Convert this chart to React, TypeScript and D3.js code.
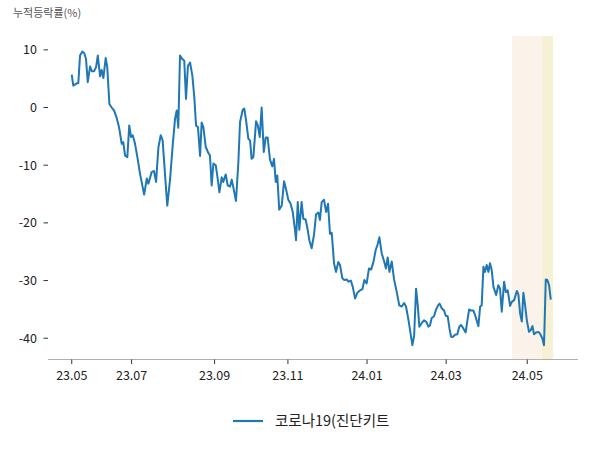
import * as d3 from "d3";
import { useEffect } from "react";

// series label and axis title
const seriesName = "코로나19(진단키트";
const yTitle = "누적등락률(%)";

// x positions in trading days from the first point
const days = [
	0, 0.8, 2.6, 3.4, 4.3, 5.5, 6.5, 7.4, 8.3, 9.5,
	10.4, 11.6, 12.6, 13.5, 14.7, 15.5, 16.4, 17.6, 18.4, 19.5,
	20.7, 21.9, 23.3, 24.5, 25.9, 26.7, 27.6, 28.8, 29.8, 30.7,
	31.6, 32.8, 34.0, 35.4, 37.5, 38.9, 39.7, 41.4, 42.6, 43.7,
	44.9, 46.1, 47.1, 48.3, 49.5, 50.9, 52.3, 53.5, 54.4, 55.2,
	56.1, 57.3, 58.3, 59.2, 60.2, 61.3, 62.5, 63.5, 64.4, 65.4,
	66.5, 67.3, 68.2, 69.4, 70.8, 71.6, 72.5, 73.4, 74.6, 75.6,
	76.5, 77.7, 78.5, 79.8, 80.8, 82.0, 82.9, 83.7, 85.1, 86.3,
	87.2, 88.6, 89.4, 90.3, 91.5, 92.4, 93.2, 94.1, 95.5, 96.4,
	97.4, 98.4, 99.5, 100.5, 101.5, 102.7, 103.9, 104.8, 105.7, 106.5,
	107.5, 108.8, 110.0, 111.0, 112.2, 113.4, 114.5, 115.7, 116.2, 117.1,
	117.9, 119.1, 120.0, 121.2, 122.4, 123.1, 124.3, 125.5, 126.6, 127.8,
	128.6, 129.5, 130.7, 131.8, 132.8, 133.8, 134.7, 135.9, 136.9, 138.1,
	139.0, 140.2, 141.2, 142.5, 143.3, 144.6, 145.6, 146.8, 148.0, 149.4,
	150.6, 151.6, 152.8, 154.0, 155.1, 156.3, 157.5, 158.5, 159.4, 160.6,
	161.8, 162.8, 163.7, 164.6, 165.8, 167.0, 168.4, 169.7, 171.0, 172.2,
	173.2, 174.4, 175.6, 176.5, 177.4, 178.4, 179.3, 180.1, 181.3, 182.5,
	183.6, 184.8, 185.6, 186.5, 187.7, 188.8, 189.8, 190.6, 191.7, 192.9,
	193.8, 194.8, 195.7, 196.5, 197.4, 198.6, 199.8, 200.8, 201.7, 202.9,
	204.1, 205.0, 205.9, 206.9, 208.1, 209.0, 209.8, 210.7, 211.6, 212.4,
	213.3, 214.1, 215.0, 215.9, 216.7, 217.6, 218.5, 219.9, 221.0, 221.9,
	222.8, 224.0, 224.9, 225.9, 227.1, 228.0, 229.2, 230.6, 231.4, 232.3,
	233.2, 234.0, 234.9, 235.8, 236.9, 237.8, 238.7, 239.5, 240.6, 241.8,
	242.6, 243.8, 244.7, 245.6, 246.4, 247.3, 248.2,
];

// cumulative return (%)
const values = [
	5.7, 3.8, 4.2, 4.2, 9.0, 9.7, 9.4, 8.4, 4.4, 7.1,
	6.3, 6.3, 7.0, 9.0, 5.4, 6.5, 5.1, 8.6, 7.0, 0.6,
	0.0, -0.5, -1.8, -3.4, -6.3, -6.0, -8.3, -8.6, -3.1, -5.1,
	-4.8, -6.3, -8.6, -11.5, -15.1, -12.3, -13.2, -11.2, -11.0, -12.9,
	-6.9, -4.8, -5.7, -11.5, -17.0, -12.6, -6.6, -2.0, -0.5, -3.5,
	9.0, 8.4, 8.1, 1.5, 7.2, 7.8, 5.5, 1.8, -3.1, -3.4,
	-8.4, -2.6, -3.4, -6.8, -7.9, -8.3, -13.5, -9.7, -10.0, -12.3,
	-14.7, -12.1, -12.9, -11.6, -13.5, -13.7, -12.5, -13.8, -16.2, -9.7,
	-2.5, -0.4, -0.2, -2.2, -5.4, -5.7, -8.9, -8.6, -2.4, -3.1,
	-5.1, 0.0, -7.7, -5.2, -5.2, -9.0, -10.2, -8.9, -12.9, -11.8,
	-17.7, -17.0, -12.8, -14.1, -16.0, -16.7, -18.1, -21.3, -23.0, -16.4,
	-21.2, -16.4, -19.3, -19.4, -21.5, -23.0, -24.4, -22.1, -18.5, -18.2,
	-19.5, -16.4, -16.0, -18.1, -16.7, -21.9, -21.7, -27.0, -28.5, -26.8,
	-27.3, -29.6, -29.9, -29.8, -30.2, -30.0, -31.1, -33.1, -32.1, -31.7,
	-31.5, -29.9, -30.5, -27.9, -28.1, -26.8, -24.7, -23.7, -22.5, -25.3,
	-26.6, -27.9, -26.0, -28.5, -26.7, -29.8, -32.0, -34.3, -34.5, -33.9,
	-34.5, -36.7, -39.3, -41.2, -39.6, -31.4, -34.4, -38.0, -37.4, -36.9,
	-37.1, -38.0, -37.8, -36.5, -36.2, -35.0, -34.3, -34.0, -34.8, -35.2,
	-36.1, -36.2, -38.3, -39.7, -39.8, -39.4, -39.3, -38.0, -37.7, -38.3,
	-39.0, -36.9, -35.0, -35.2, -35.2, -36.0, -36.9, -37.9, -34.5, -34.3,
	-27.6, -28.5, -27.3, -28.5, -27.0, -28.2, -31.1, -32.5, -30.8, -31.4,
	-35.4, -30.2, -32.0, -31.7, -34.4, -33.7, -33.4, -31.8, -32.4, -35.7,
	-37.1, -32.1, -34.3, -36.9, -38.9, -38.6, -37.9, -39.3, -39.0, -38.9,
	-39.2, -40.0, -41.2, -29.8, -29.9, -30.8, -33.3,
];

// x tick positions (trading day) and labels
const tickDays = [0, 31, 74, 112, 153, 194, 236];
const tickLabels = ["23.05", "23.07", "23.09", "23.11", "24.01", "24.03", "24.05"];
const yTicks = [10, 0, -10, -20, -30, -40];

// highlighted periods (trading day ranges)
const spanStart = [228.1, 243.7];
const spanEnd = [243.7, 249.4];
const spanColors = ["#fbf2ea", "#f6f1d4"];

const W = 600;
const H = 450;
const font = "'Noto Sans CJK KR', 'Noto Sans', sans-serif";

export default function App() {
	useEffect(() => {
		document.body.style.margin = "0";
	}, []);

	const x = d3.scaleLinear().domain([-12.3, 262.3]).range([48, 578]);
	const y = d3.scaleLinear().domain([-43.6, 12.4]).range([359, 36]);

	const n = Math.min(days.length, values.length);
	const pts: [number, number][] = d3.range(n).map((i) => [days[i], values[i]]);
	const line = d3
		.line<[number, number]>()
		.x((d) => x(d[0]))
		.y((d) => y(d[1]));

	return (
		<svg width={W} height={H} style={{ display: "block", fontFamily: font }}>
			<rect width={W} height={H} fill="#fff" />
			{spanStart.map((s, i) => (
				<rect
					key={i}
					x={x(s)}
					y={y(12.4)}
					width={x(spanEnd[i]) - x(s)}
					height={y(-43.6) - y(12.4)}
					fill={spanColors[i]}
				/>
			))}
			<text x={13} y={17} fontSize={11} fill="#555">
				{yTitle}
			</text>
			{yTicks.map((t) => (
				<g key={t} transform={`translate(0,${y(t)})`}>
					<line x1={43.5} x2={48} stroke="#333" strokeWidth={1} />
					<text x={37} dy="0.35em" textAnchor="end" fontSize={12.5} fill="#222">
						{t}
					</text>
				</g>
			))}
			<line x1={48} x2={578} y1={359.5} y2={359.5} stroke="#b0b0b0" strokeWidth={1} />
			{tickDays.map((t, i) => (
				<g key={t} transform={`translate(${x(t)},0)`}>
					<line y1={359.5} y2={364} stroke="#333" strokeWidth={1} />
					<text y={380} textAnchor="middle" fontSize={12.5} fill="#222">
						{tickLabels[i]}
					</text>
				</g>
			))}
			<path
				d={line(pts) ?? ""}
				fill="none"
				stroke="#1f77b4"
				strokeWidth={2}
				strokeLinejoin="round"
			/>
			<line x1={233} x2={263} y1={421} y2={421} stroke="#1f77b4" strokeWidth={2.2} />
			<text x={275} y={426} fontSize={14.5} fill="#222">
				{seriesName}
			</text>
		</svg>
	);
}
